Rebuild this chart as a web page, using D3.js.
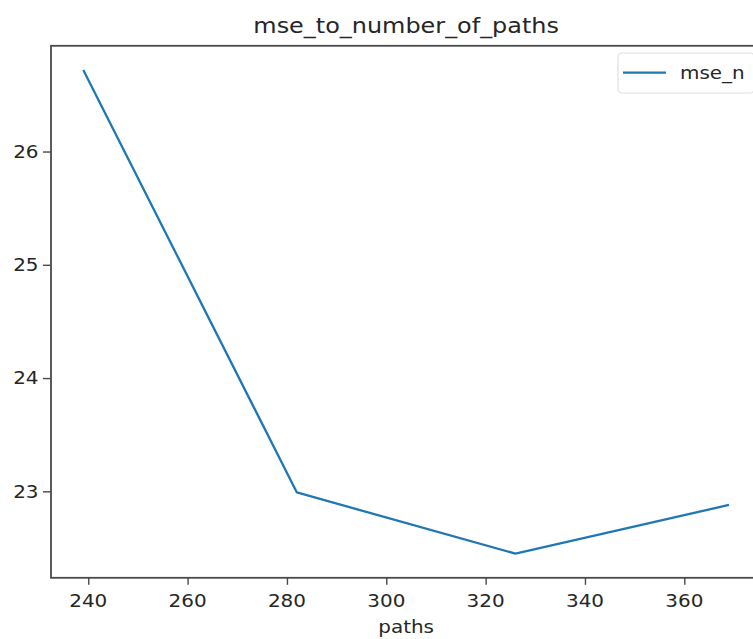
<!DOCTYPE html>
<html lang="en">
<head>
<meta charset="utf-8">
<script src="https://d3js.org/d3.v7.min.js"></script>
<style type="text/css">
body {
	margin: 0;
	background: white;
}
text {
	font-family: "DejaVu Sans", sans-serif;
	fill: #262626;
}
</style>
</head>
<body>
<script type="text/javascript">

// chart data
var title = "mse_to_number_of_paths";
var xLabel = "paths";
var seriesName = "mse_n";
var paths = [239, 282, 326, 369];
var mse = [26.72, 22.99, 22.45, 22.88];
var xTicks = [240, 260, 280, 300, 320, 340, 360];
var yTicks = [23, 24, 25, 26];

var width = 753;
var height = 639;

// axes box (the right part runs off the picture, like the reference)
var axLeft = 51, axRight = 761.3, axTop = 45.8, axBottom = 577.8;

// text in the reference is a bit wider than tall
var stretch = 1.14;

var svg = d3.select("body")
            .append("svg")
            .attr("width", width)
            .attr("height", height);

// matplotlib style 5% margins
var xExt = d3.extent(paths);
var xPad = (xExt[1] - xExt[0]) * 0.05;
var yExt = d3.extent(mse);
var yPad = (yExt[1] - yExt[0]) * 0.05;

var x = d3.scaleLinear()
          .domain([xExt[0] - xPad, xExt[1] + xPad])
          .range([axLeft, axRight]);

var y = d3.scaleLinear()
          .domain([yExt[0] - yPad, yExt[1] + yPad])
          .range([axBottom, axTop]);

function addText(px, py, str, size, anchor) {
	return svg.append("text")
	   .attr("transform", "translate(" + px + "," + py + ") scale(" + stretch + ",1)")
	   .attr("text-anchor", anchor)
	   .style("font-size", size + "px")
	   .text(str);
}

// the line
var line = d3.line()
             .x(function(d, i) { return x(paths[i]); })
             .y(function(d) { return y(d); });

svg.append("path")
   .datum(mse)
   .attr("d", line)
   .attr("fill", "none")
   .attr("stroke", "#1f77b4")
   .attr("stroke-width", 2.3)
   .attr("stroke-linejoin", "round");

// spines
svg.append("rect")
   .attr("x", axLeft)
   .attr("y", axTop)
   .attr("width", axRight - axLeft)
   .attr("height", axBottom - axTop)
   .attr("fill", "none")
   .attr("stroke", "#4a4a4a")
   .attr("stroke-width", 1.8);

// x axis ticks
var xAxis = d3.axisBottom(x)
              .tickValues(xTicks)
              .tickSize(7)
              .tickFormat("");

svg.append("g")
   .attr("transform", "translate(0," + axBottom + ")")
   .call(xAxis)
   .call(function(g) {
      g.select(".domain").remove();
      g.selectAll("line").attr("stroke", "#4a4a4a").attr("stroke-width", 1.4);
   });

xTicks.forEach(function(t) {
	addText(x(t), 607, t, 17.5, "middle");
});

// y axis ticks
var yAxis = d3.axisLeft(y)
              .tickValues(yTicks)
              .tickSize(8)
              .tickFormat("");

svg.append("g")
   .attr("transform", "translate(" + axLeft + ",0)")
   .call(yAxis)
   .call(function(g) {
      g.select(".domain").remove();
      g.selectAll("line").attr("stroke", "#4a4a4a").attr("stroke-width", 1.4);
   });

yTicks.forEach(function(t) {
	addText(38.5, y(t) + 6.4, t, 17.5, "end");
});

// titles
addText((axLeft + axRight) / 2, 33, title, 21, "middle");
addText((axLeft + axRight) / 2, 633, xLabel, 17.5, "middle");

// legend
svg.append("rect")
   .attr("x", 618)
   .attr("y", 53)
   .attr("width", 136)
   .attr("height", 40)
   .attr("rx", 4)
   .attr("fill", "white")
   .attr("stroke", "#e0e0e0")
   .attr("stroke-width", 1.2);

svg.append("line")
   .attr("x1", 623)
   .attr("x2", 666)
   .attr("y1", 72.7)
   .attr("y2", 72.7)
   .attr("stroke", "#1f77b4")
   .attr("stroke-width", 2.3);

addText(680, 79, seriesName, 17.5, "start");

</script>
</body>
</html>
